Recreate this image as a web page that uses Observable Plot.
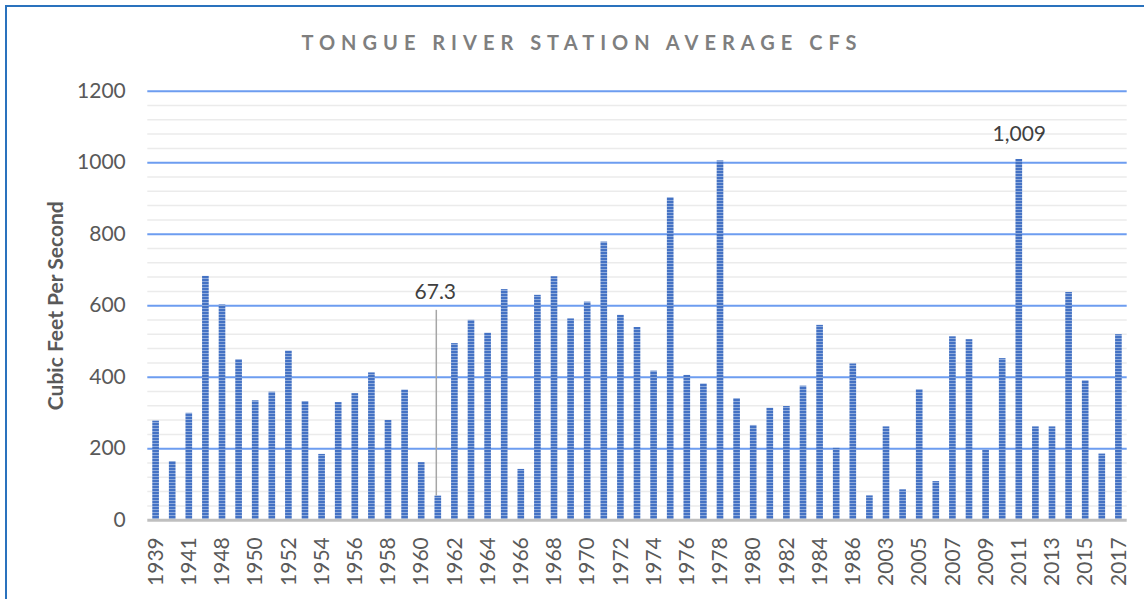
<!DOCTYPE html>
<html><head><meta charset="utf-8">
<script src="https://cdn.jsdelivr.net/npm/d3@7"></script>
<script src="https://cdn.jsdelivr.net/npm/@observablehq/plot@0.6"></script>
<style>
html,body{margin:0;padding:0;background:#fff;overflow:hidden;width:1144px;height:599px}
#frame{position:absolute;left:5px;top:5px;width:1300px;height:800px;border:2px solid #2a72bd;box-sizing:border-box;pointer-events:none}
#title{height:60px;padding-top:30px;box-sizing:border-box;line-height:24px;text-align:center;font-family:Lato,sans-serif;font-weight:700;font-size:20px;letter-spacing:6px;color:#7f7f7f;padding-left:20px;white-space:nowrap}
#chart svg{display:block}
</style></head>
<body>
<div id="title">TONGUE RIVER STATION AVERAGE CFS</div>
<div id="chart"></div>
<div id="frame"></div>
<script>
const categories = ["1939","1940","1941","1947","1948","1949","1950","1951","1952","1953","1954","1955","1956","1957","1958","1959","1960","1961","1962","1963","1964","1965","1966","1967","1968","1969","1970","1971","1972","1973","1974","1975","1976","1977","1978","1979","1980","1981","1982","1983","1984","1985","1986","2002","2003","2004","2005","2006","2007","2008","2009","2010","2011","2012","2013","2014","2015","2016","2017"];
const cfs = [277,164,299,682,602,449,334,358,473,332,184,329,354,412,279,364,161,67.3,494,559,523,645,142,629,681,563,610,778,573,539,417,902,405,381,1005,340,265,313,318,375,545,201,437,68,261,85,365,108,513,505,196,452,1009,261,261,637,390,185,519];
const xTickLabels = ["1939","1941","1948","1950","1952","1954","1956","1958","1960","1962","1964","1966","1968","1970","1972","1974","1976","1978","1980","1982","1984","1986","2003","2005","2007","2009","2011","2013","2015","2017"];
const yTicks = [0,200,400,600,800,1000,1200];
const yMinorTicks = [40,80,120,160,240,280,320,360,440,480,520,560,640,680,720,760,840,880,920,960,1040,1080,1120,1160];
const yTitle = "Cubic Feet Per Second";
const calloutYear = "1961";
const calloutLabelAt = 638;   // cfs level where the 67.3 label sits
const calloutLeaderTop = 587; // cfs level where its leader line ends
const peakYear = "2011";

const rows = categories.map((year, i) => ({year, cfs: cfs[i]}));
const fmt = d3.format(",");
const callout = rows.find(d => d.year === calloutYear);
const peak = rows.find(d => d.year === peakYear);

const svg = Plot.plot({
  width: 1144, height: 539,
  marginLeft: 147.3, marginRight: 17.3, marginTop: 30.7, marginBottom: 79.3,
  style: {fontFamily: "Lato, sans-serif", fontSize: "21px", color: "#595959", background: "transparent", overflow: "visible"},
  x: {type: "band", domain: categories, paddingInner: 0.6, paddingOuter: 0.3},
  y: {domain: [0, 1200]},
  marks: [
    Plot.ruleY(yMinorTicks, {stroke: "#ebebeb", strokeWidth: 1.5}),
    Plot.ruleY(yTicks.filter(d => d > 0), {stroke: "#6d9df0", strokeWidth: 2}),
    Plot.barY(rows, {x: "year", y: "cfs", fill: "url(#stripes)"}),
    Plot.ruleY([0], {stroke: "#bfbfbf", strokeWidth: 3}),
    Plot.axisY({ticks: yTicks, tickFormat: d => String(d), tickSize: 0, tickPadding: 22, label: null, fill: "#595959"}),
    Plot.axisX({ticks: xTickLabels, tickSize: 0, tickPadding: 17, tickRotate: -90, label: null, fill: "#595959"}),
    Plot.text([yTitle], {frameAnchor: "left", rotate: -90, dx: -92, textAnchor: "middle", text: d => d, fontWeight: "bold", fontSize: 21, fill: "#595959"}),
    Plot.ruleX([callout], {x: "year", y1: "cfs", y2: () => calloutLeaderTop, stroke: "#a6a6a6", strokeWidth: 1.5, dx: -2}),
    Plot.text([callout], {x: "year", y: () => calloutLabelAt, text: d => fmt(d.cfs), fill: "#404040", fontSize: 21, dx: -3}),
    Plot.text([peak], {x: "year", y: "cfs", text: d => fmt(d.cfs), dy: -25, fill: "#404040", fontSize: 21})
  ]
});

const NS = "http://www.w3.org/2000/svg";
const defs = document.createElementNS(NS, "defs");
const pat = document.createElementNS(NS, "pattern");
pat.setAttribute("id", "stripes");
pat.setAttribute("patternUnits", "userSpaceOnUse");
pat.setAttribute("width", "10");
pat.setAttribute("height", "3");
const r1 = document.createElementNS(NS, "rect");
r1.setAttribute("width", "10"); r1.setAttribute("height", "3"); r1.setAttribute("fill", "#8eaadb");
const r2 = document.createElementNS(NS, "rect");
r2.setAttribute("width", "10"); r2.setAttribute("height", "2"); r2.setAttribute("fill", "#4472c4");
pat.appendChild(r1); pat.appendChild(r2);
defs.appendChild(pat);
svg.insertBefore(defs, svg.firstChild);
document.getElementById("chart").appendChild(svg);
</script>
</body></html>
